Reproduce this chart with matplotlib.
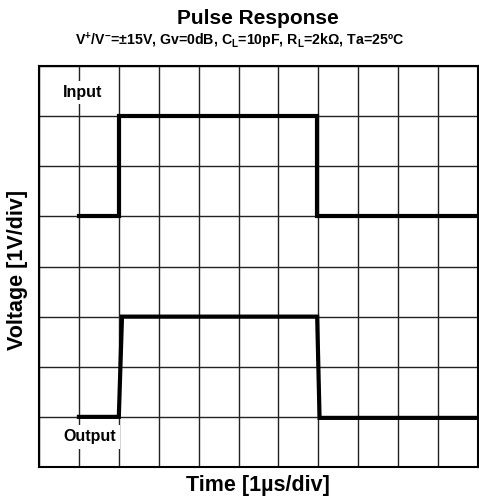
import numpy as np
import matplotlib
matplotlib.use('Agg')
import matplotlib.pyplot as plt

plt.rcParams['font.family'] = ['Liberation Sans', 'DejaVu Sans']
plt.rcParams['mathtext.default'] = 'regular'

# traces, in divisions (x: 1us/div, y: 1V/div)
input_t = [1.0, 2.0, 2.0, 6.97, 6.97, 11.0]
input_v = [5.0, 5.0, 7.0, 7.0, 5.0, 5.0]
output_t = [1.0, 2.0, 2.08, 6.97, 7.03, 11.0]
output_v = [1.0, 1.0, 3.0, 3.0, 0.98, 0.98]

n_xdiv = 11
n_ydiv = 8

fig = plt.figure(figsize=(4.79, 5.01), dpi=100)
# axes box in pixels: x 39..478, y 66..467
W, H = 479.0, 501.0
ax = fig.add_axes([39 / W, 1 - 467 / H, (478 - 39) / W, (467 - 66) / H])

ax.set_xlim(0, n_xdiv)
ax.set_ylim(0, n_ydiv)
ax.set_xticks(np.arange(0, n_xdiv + 1))
ax.set_yticks(np.arange(0, n_ydiv + 1))
ax.tick_params(length=0, labelbottom=False, labelleft=False)
ax.grid(True, color='#222222', linewidth=1.0)
for s in ax.spines.values():
    s.set_linewidth(1.5)

ax.plot(input_t, input_v, color='black', linewidth=3, solid_joinstyle='miter')
ax.plot(output_t, output_v, color='black', linewidth=3, solid_joinstyle='miter')

box = dict(facecolor='white', edgecolor='none', pad=3)
ax.text(1.1, 7.47, 'Input', ha='center', va='center', fontsize=11.5,
        fontweight='bold', bbox=box)
ax.text(1.27, 0.6, 'Output', ha='center', va='center', fontsize=11.5,
        fontweight='bold', bbox=box)

fig.text(258 / W, 1 - 486 / H, 'Time [1µs/div]', ha='center', va='center',
         fontsize=15.5, fontweight='bold')
fig.text(18 / W, 1 - 270 / H, 'Voltage [1V/div]', ha='center', va='center',
         rotation=90, fontsize=15.5, fontweight='bold')

fig.text(258 / W, 1 - 19 / H, 'Pulse Response', ha='center', va='center',
         fontsize=15, fontweight='bold')
fig.text(240 / W, 1 - 41 / H,
         'V$^{+}$/V$^{-}$=±15V, Gv=0dB, C$_{L}$=10pF, R$_{L}$=2kΩ, Ta=25ºC',
         ha='center', va='center', fontsize=10.2, fontweight='bold')

fig.savefig('out.png', dpi=100)
